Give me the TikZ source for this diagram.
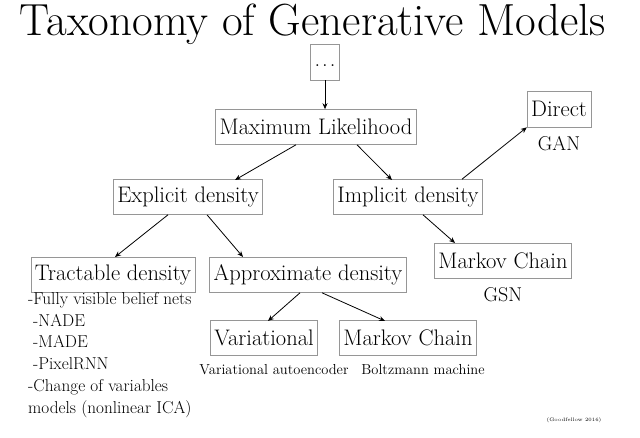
\documentclass[tikz,border=0pt]{standalone}
\usetikzlibrary{arrows.meta,positioning}
\definecolor{boxgray}{RGB}{150,150,150}

\begin{document}
\begin{tikzpicture}[
  x=1pt, y=-1pt,
  box/.style={rectangle, draw=boxgray, line width=0.6pt, inner xsep=4pt,
              minimum height=35pt, font=\fontsize{22.5}{26}\selectfont},
  sub/.style={font=\fontsize{20}{24}\selectfont, inner sep=0pt},
  small/.style={font=\fontsize{17.2}{21.8}\selectfont, inner sep=0pt},
  link/.style={-{Stealth[length=6pt,width=5pt]}, line width=0.8pt, black}
]
  \useasboundingbox (0,0) rectangle (640,438);

  \node[font=\fontsize{45}{50}\selectfont, inner sep=0pt] (title) at (313,24) {Taxonomy of Generative Models};

  \node[box, minimum width=28pt, minimum height=36pt] (top) at (325,62) {\raisebox{-10pt}{.\hspace{2pt}.\hspace{2pt}.}};
  \node[box] (ml)   at (316,127) {Maximum Likelihood};
  \node[box] (expl) at (188,197) {Explicit density};
  \node[box] (impl) at (408,197) {Implicit density};
  \node[box, minimum height=36pt] (dir)  at (559,109) {Direct};
  \node[sub] (gan) at (559,144) {GAN};
  \node[box] (tract) at (113,275) {Tractable density};
  \node[box] (appr)  at (308,275) {Approximate density};
  \node[box] (mcr)   at (503,261) {Markov Chain};
  \node[sub] (gsn) at (503,295) {GSN};
  \node[box] (var)   at (264,338) {Variational};
  \node[box] (mcb)   at (408,338) {Markov Chain};
  \node[font=\fontsize{14.5}{18}\selectfont, inner sep=0pt] (vae) at (274,370) {Variational autoencoder};
  \node[font=\fontsize{14.5}{18}\selectfont, inner sep=0pt] (boltz) at (423,370) {Boltzmann machine};

  % list under the tractable box
  \node[small, anchor=north west, align=left] (list) at (28,292) {%
    -Fully visible belief nets\\
    \hspace{5pt}-NADE\\
    \hspace{5pt}-MADE\\
    \hspace{5pt}-PixelRNN\\
    -Change of variables\\
    models (nonlinear ICA)};

  \node[font=\fontsize{5}{6}\selectfont, inner sep=0pt] (cite) at (574,420) {(Goodfellow 2016)};

  \draw[link] (top.south) -- (top.south |- ml.north);
  \draw[link] (ml.south) ++(-20,0) coordinate (mlA) -- (235,180) coordinate (eA);
  \draw[link] (ml.south) ++(41,0) coordinate (mlB) -- (392,180) coordinate (iA);
  \draw[link] (impl.north) ++(54,0) coordinate (iB) -- (dir.south west);
  \draw[link] (expl.south) ++(-20,0) coordinate (eB) -- (115,257) coordinate (tA);
  \draw[link] (expl.south) ++(19,0) coordinate (eC) -- (243,257) coordinate (aA);
  \draw[link] (impl.south) ++(15,0) coordinate (iC) -- (455,243) coordinate (mA);
  \draw[link] (appr.south) ++(-8,0) coordinate (aB) -- (268,321) coordinate (vA);
  \draw[link] (appr.south) ++(14,0) coordinate (aC) -- (385,321) coordinate (bA);
\end{tikzpicture}
\end{document}
